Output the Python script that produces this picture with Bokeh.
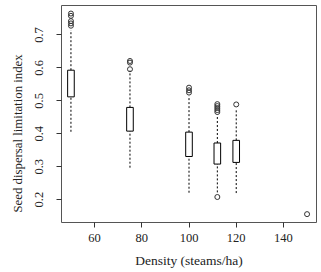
from bokeh.plotting import figure
from bokeh.models import Range1d, FixedTicker, Title, ColumnDataSource
from bokeh.embed import file_html
from bokeh.resources import INLINE

# Box statistics per density group
density = [50, 75, 100, 112, 120]
q1 = [0.512, 0.408, 0.331, 0.308, 0.313]
median = [0.553, 0.446, 0.367, 0.337, 0.343]
q3 = [0.593, 0.480, 0.405, 0.372, 0.380]
whisker_low = [0.406, 0.297, 0.221, 0.222, 0.220]
whisker_high = [0.715, 0.592, 0.515, 0.458, 0.475]

# Outliers
out_x = [50, 50, 50, 50, 50, 75, 75, 75, 100, 100, 100,
         112, 112, 112, 112, 112, 112, 120, 150]
out_y = [0.765, 0.758, 0.742, 0.735, 0.728, 0.621, 0.616, 0.596, 0.540, 0.532, 0.525,
         0.490, 0.484, 0.478, 0.472, 0.466, 0.208, 0.489, 0.156]

x_ticks = [60, 80, 100, 120, 140]
y_ticks = [0.2, 0.3, 0.4, 0.5, 0.6, 0.7]

x_title = "Density (steams/ha)"
y_title = "Seed dispersal limitation index"

FONT = "Liberation Serif"
TXT = "#222222"
BOX_W = 2.8
STAPLE_W = 1.4

p = figure(width=321, height=272, output_backend="svg", toolbar_location=None,
           x_range=Range1d(46, 154), y_range=Range1d(0.1306, 0.7894),
           min_border_left=60, min_border_right=5, min_border_top=5, min_border_bottom=50)

p.background_fill_color = "white"
p.border_fill_color = "white"
p.outline_line_color = "#555555"
p.outline_line_width = 1
p.grid.visible = False

for ax in (p.xaxis[0], p.yaxis[0]):
    ax.axis_line_color = None
    ax.major_tick_line_color = "#333333"
    ax.minor_tick_line_color = None
    ax.major_tick_out = 5
    ax.major_tick_in = 0
    ax.major_label_text_font = FONT
    ax.major_label_text_font_size = "12.5px"
    ax.major_label_text_color = TXT

p.xaxis.ticker = FixedTicker(ticks=x_ticks)
p.yaxis.ticker = FixedTicker(ticks=y_ticks)
p.xaxis.major_label_standoff = 6
p.yaxis.major_label_orientation = "vertical"
p.yaxis.major_label_standoff = 13

p.xaxis.axis_label = x_title
p.xaxis.axis_label_text_font = FONT
p.xaxis.axis_label_text_font_size = "13.5px"
p.xaxis.axis_label_text_font_style = "normal"
p.xaxis.axis_label_text_color = TXT
p.xaxis.axis_label_standoff = 8

src = ColumnDataSource(dict(x=density, q1=q1, med=median, q3=q3,
                            lo=whisker_low, hi=whisker_high))

# whiskers (dashed)
p.segment(x0="x", y0="q3", x1="x", y1="hi", source=src, line_color="black",
          line_width=1, line_dash="2 2")
p.segment(x0="x", y0="lo", x1="x", y1="q1", source=src, line_color="black",
          line_width=1, line_dash="2 2")
# staples
p.rect(x="x", y="hi", width=STAPLE_W, height=0, source=src, line_color="black",
       fill_color=None, line_width=1)
p.rect(x="x", y="lo", width=STAPLE_W, height=0, source=src, line_color="black",
       fill_color=None, line_width=1)
# boxes
p.vbar(x="x", width=BOX_W, bottom="q1", top="q3", source=src, fill_color="white",
       line_color="black", line_width=1)
# medians
p.rect(x="x", y="med", width=BOX_W, height=0, source=src, line_color="black",
       fill_color=None, line_width=2.5)
# outliers
p.scatter(out_x, out_y, marker="circle", size=5, fill_color=None,
          line_color="#333333", line_width=1)

p.add_layout(Title(text=y_title, align="left", offset=10, text_font=FONT,
                   text_font_size="12.8px", text_font_style="normal",
                   text_color=TXT, standoff=16), "left")

out = open("out.html", "w")
out.write(file_html(p, INLINE))
out.close()
